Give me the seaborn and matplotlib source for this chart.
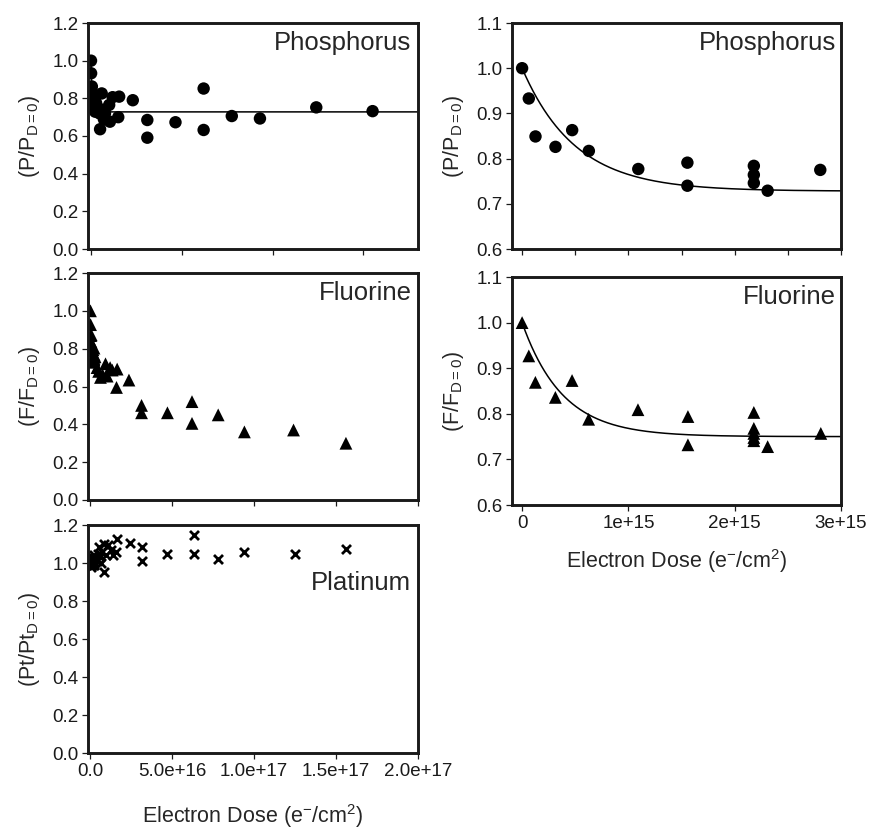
import numpy as np
import pandas as pd
import matplotlib
matplotlib.use("Agg")
import matplotlib.pyplot as plt
import seaborn as sns

# ---- data ----
# zoomed-in runs (right column), dose in e-/cm2
p_zoom_dose = [0, 0.063e15, 0.126e15, 0.314e15, 0.471e15, 0.628e15, 1.093e15,
               1.555e15, 1.555e15, 2.18e15, 2.18e15, 2.18e15, 2.31e15, 2.805e15]
p_zoom_ratio = [1.00, 0.933, 0.849, 0.826, 0.863, 0.817, 0.777,
                0.791, 0.740, 0.784, 0.764, 0.746, 0.729, 0.775]

f_zoom_dose = [0, 0.063e15, 0.125e15, 0.313e15, 0.47e15, 0.626e15, 1.09e15,
               1.56e15, 1.56e15, 2.18e15, 2.18e15, 2.18e15, 2.18e15, 2.18e15,
               2.31e15, 2.81e15]
f_zoom_ratio = [1.00, 0.927, 0.869, 0.836, 0.873, 0.788, 0.809,
                0.794, 0.732, 0.803, 0.768, 0.757, 0.748, 0.741,
                0.728, 0.757]

# extra points at larger dose (left column)
p_high_dose = [0.39e16, 0.47e16, 0.59e16, 0.50e16, 0.71e16, 0.77e16, 1.00e16,
               1.04e16, 1.19e16, 1.55e16, 1.50e16, 2.30e16, 3.10e16, 3.10e16,
               4.65e16, 6.20e16, 6.20e16, 7.75e16, 9.30e16, 12.4e16, 15.5e16]
p_high_ratio = [0.75, 0.72, 0.826, 0.636, 0.689, 0.72, 0.765,
                0.676, 0.806, 0.809, 0.70, 0.79, 0.685, 0.591,
                0.673, 0.852, 0.632, 0.706, 0.693, 0.752, 0.732]

f_high_dose = [0.40e16, 0.50e16, 0.61e16, 0.75e16, 0.92e16, 1.02e16, 1.20e16,
               1.33e16, 1.63e16, 1.59e16, 2.35e16, 3.12e16, 3.12e16, 4.70e16,
               6.20e16, 6.20e16, 7.80e16, 9.40e16, 12.4e16, 15.6e16]
f_high_ratio = [0.70, 0.68, 0.648, 0.66, 0.72, 0.655, 0.70,
                0.687, 0.692, 0.595, 0.634, 0.50, 0.461, 0.461,
                0.52, 0.405, 0.45, 0.36, 0.37, 0.30]

pt_dose = [0, 0.063e15, 0.126e15, 0.314e15, 0.471e15, 0.628e15, 1.09e15,
           1.555e15, 1.555e15, 2.18e15, 2.18e15, 2.18e15, 2.31e15, 2.8e15,
           0.39e16, 0.47e16, 0.50e16, 0.59e16, 0.62e16, 0.71e16, 0.80e16,
           0.85e16, 0.93e16, 1.10e16, 1.25e16, 1.40e16, 1.55e16, 1.60e16,
           2.40e16, 3.17e16, 3.17e16, 4.70e16, 6.30e16, 6.30e16, 7.80e16,
           9.40e16, 12.5e16, 15.6e16]
pt_ratio = [1.00, 1.01, 0.99, 1.02, 1.00, 0.98, 1.03,
            1.01, 0.99, 1.02, 1.00, 1.04, 0.99, 1.03,
            1.01, 1.05, 1.085, 1.03, 1.00, 1.06, 1.10,
            0.955, 1.04, 1.095, 1.07, 1.04, 1.06, 1.125,
            1.107, 1.086, 1.012, 1.05, 1.147, 1.05, 1.02,
            1.06, 1.05, 1.072]

# exponential fits y = plateau + (1 - plateau) * exp(-D / d0)
p_plateau, p_d0 = 0.728, 0.50e15
f_plateau, f_d0 = 0.750, 0.38e15

p_all = pd.DataFrame({"dose": p_zoom_dose + p_high_dose,
                      "ratio": p_zoom_ratio + p_high_ratio})
f_all = pd.DataFrame({"dose": f_zoom_dose + f_high_dose,
                      "ratio": f_zoom_ratio + f_high_ratio})
pt_all = pd.DataFrame({"dose": pt_dose, "ratio": pt_ratio})
p_zoom = pd.DataFrame({"dose": p_zoom_dose, "ratio": p_zoom_ratio})
f_zoom = pd.DataFrame({"dose": f_zoom_dose, "ratio": f_zoom_ratio})


def fit_curve(plateau, d0, xmax):
    d = np.linspace(0, xmax, 2000)
    return pd.DataFrame({"dose": d,
                         "ratio": plateau + (1 - plateau) * np.exp(-d / d0)})


sns.set_style("ticks")
plt.rcParams["font.family"] = ["Liberation Sans", "DejaVu Sans"]
plt.rcParams["mathtext.fontset"] = "custom"
plt.rcParams["mathtext.rm"] = "Liberation Sans"
plt.rcParams["mathtext.it"] = "Liberation Sans:italic"
plt.rcParams["mathtext.default"] = "regular"

fig = plt.figure(figsize=(8.69, 8.32), dpi=100)
W, H = 869, 832


def add_ax(x0, y0, x1, y1):
    return fig.add_axes([x0 / W, 1 - y1 / H, (x1 - x0) / W, (y1 - y0) / H])


ax_p = add_ax(88, 23, 418, 249)
ax_f = add_ax(88, 273, 418, 500)
ax_pt = add_ax(88, 525, 418, 753)
ax_pz = add_ax(512, 23, 841, 249)
ax_fz = add_ax(512, 277, 841, 505)

TICK = 13.5
LAB = 15.5
NAME = 18.5
xlab = "Electron Dose (e$^{-}$/cm$^{2}$)"
circ = dict(marker="o", s=80, color="black", edgecolor="none", legend=False)
tri = dict(marker="^", s=85, color="black", edgecolor="none", legend=False)

# left column
sns.scatterplot(data=p_all, x="dose", y="ratio", ax=ax_p, **circ)
sns.lineplot(data=fit_curve(p_plateau, p_d0, 1.8e17), x="dose", y="ratio",
             ax=ax_p, color="black", lw=1.1)
sns.scatterplot(data=f_all, x="dose", y="ratio", ax=ax_f, **tri)
ax_pt.scatter(pt_all["dose"], pt_all["ratio"], marker="x", s=42,
              color="black", linewidths=2.0)

# right column
sns.scatterplot(data=p_zoom, x="dose", y="ratio", ax=ax_pz, **circ)
sns.lineplot(data=fit_curve(p_plateau, p_d0, 3e15), x="dose", y="ratio",
             ax=ax_pz, color="black", lw=1.1)
sns.scatterplot(data=f_zoom, x="dose", y="ratio", ax=ax_fz, **tri)
sns.lineplot(data=fit_curve(f_plateau, f_d0, 3e15), x="dose", y="ratio",
             ax=ax_fz, color="black", lw=1.1)

for ax in [ax_p, ax_f, ax_pt, ax_pz, ax_fz]:
    for sp in ax.spines.values():
        sp.set_visible(True)
        sp.set_linewidth(2.1)
        sp.set_color("#1a1a1a")
    ax.tick_params(direction="out", length=4, width=0.9, labelsize=TICK,
                   colors="#1a1a1a", pad=3)
    ax.set_xlabel("")
    ax.set_ylabel("")

for ax in [ax_p, ax_f, ax_pt]:
    ax.set_ylim(0, 1.2)
    ax.set_yticks(np.arange(0, 1.21, 0.2))
    ax.set_yticklabels([f"{v:.1f}" for v in np.arange(0, 1.21, 0.2)])

ax_p.set_xlim(-0.165e16, 1.8e17)
ax_p.set_xticks([0, 5e16, 1e17, 1.5e17])
ax_p.set_xticklabels([])
ax_f.set_xlim(-0.15e16, 2.0e17)
ax_f.set_xticks([0, 5e16, 1e17, 1.5e17, 2e17])
ax_f.set_xticklabels([])
ax_pt.set_xlim(-0.15e16, 2.0e17)
ax_pt.set_xticks([0, 5e16, 1e17, 1.5e17, 2e17])
ax_pt.set_xticklabels(["0.0", "5.0e+16", "1.0e+17", "1.5e+17", "2.0e+17"])
ax_pt.set_xlabel(xlab, fontsize=LAB)
ax_pt.xaxis.set_label_coords(0.5, -0.215)

for ax in [ax_pz, ax_fz]:
    ax.set_ylim(0.6, 1.1)
    ax.set_yticks(np.arange(0.6, 1.11, 0.1))
    ax.set_yticklabels([f"{v:.1f}" for v in np.arange(0.6, 1.11, 0.1)])
    ax.set_xlim(-0.095e15, 3e15)

ax_pz.set_xticks(np.arange(0, 3.01e15, 0.5e15))
ax_pz.set_xticklabels([])
ax_fz.set_xticks([0, 1e15, 2e15, 3e15])
ax_fz.set_xticklabels(["0", "1e+15", "2e+15", "3e+15"])
ax_fz.set_xlabel(xlab, fontsize=LAB)
ax_fz.xaxis.set_label_coords(0.5, -0.185)

ylabels = [(ax_p, "(P/P$_{D=0}$)"), (ax_f, "(F/F$_{D=0}$)"),
           (ax_pt, "(Pt/Pt$_{D=0}$)"), (ax_pz, "(P/P$_{D=0}$)"),
           (ax_fz, "(F/F$_{D=0}$)")]
for ax, lab in ylabels:
    ax.set_ylabel(lab, fontsize=LAB)
    ax.yaxis.set_label_coords(-0.14, 0.5)

ax_p.text(0.98, 0.965, "Phosphorus", transform=ax_p.transAxes,
          ha="right", va="top", fontsize=NAME)
ax_f.text(0.98, 0.965, "Fluorine", transform=ax_f.transAxes,
          ha="right", va="top", fontsize=NAME)
ax_pt.text(0.98, 0.80, "Platinum", transform=ax_pt.transAxes,
           ha="right", va="top", fontsize=NAME)
ax_pz.text(0.985, 0.965, "Phosphorus", transform=ax_pz.transAxes,
           ha="right", va="top", fontsize=NAME)
ax_fz.text(0.985, 0.965, "Fluorine", transform=ax_fz.transAxes,
           ha="right", va="top", fontsize=NAME)

fig.savefig("out.png", dpi=100)
